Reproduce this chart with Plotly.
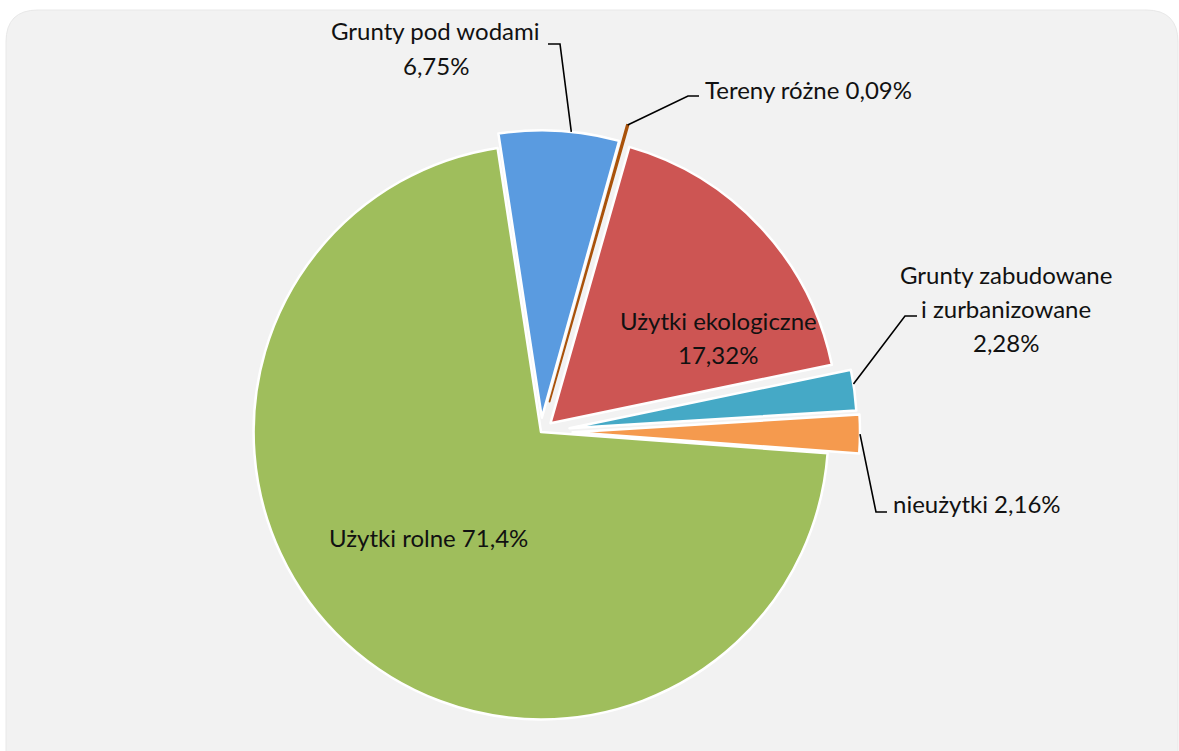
import math
import plotly.graph_objects as go

W, H = 1179, 751

# Land-use structure (%), clockwise from the top
categories = ["Grunty pod wodami", "Tereny różne", "Użytki ekologiczne",
              "Grunty zabudowane i zurbanizowane", "nieużytki", "Użytki rolne"]
shares = [6.75, 0.09, 17.32, 2.28, 2.16, 71.4]
share_labels = ["6,75%", "0,09%", "17,32%", "2,28%", "2,16%", "71,4%"]
colors = ["#5A9BE0", "#C8640F", "#CD5553", "#45A9C6", "#F59A4E", "#9FBE5C"]
edge_colors = ["white", "#A9520A", "white", "white", "white", "white"]
edge_widths = [2.5, 1.8, 2.5, 2.5, 2.5, 2.5]
pulls = [0.05, 0.11, 0.045, 0.10, 0.11, 0.0]

# pie placement in pixels
CX, CY = 541, 432
R_OUT = H - CY                  # half-size of the pie domain
ROTATION = -8.7


def px(x):
    return x / W


def py(y):
    return 1 - y / H


max_pull = max(pulls)
radius = R_OUT / (1 + max_pull)

fig = go.Figure(go.Pie(
    labels=categories,
    values=shares,
    sort=False,
    direction="clockwise",
    rotation=ROTATION,
    pull=pulls,
    marker=dict(colors=colors, line=dict(color=edge_colors, width=edge_widths)),
    textinfo="none",
    hoverinfo="label+percent",
    showlegend=False,
    domain=dict(x=[px(CX - R_OUT), px(CX + R_OUT)], y=[py(CY + R_OUT), py(CY - R_OUT)]),
))


def slice_point(i, frac=0.5, rscale=1.0):
    """Pixel position on slice i at a fraction of its angular span."""
    total = sum(shares)
    start = ROTATION + 360 * sum(shares[:i]) / total
    span = 360 * shares[i] / total
    mid = math.radians(start + span / 2)
    ang = math.radians(start + span * frac)
    ox = CX + pulls[i] * radius * math.sin(mid)
    oy = CY - pulls[i] * radius * math.cos(mid)
    return ox + rscale * radius * math.sin(ang), oy - rscale * radius * math.cos(ang)


FONT = dict(family="Lato, Calibri, sans-serif", size=24, color="#111111")
LINE_H = 34
annotations = []


def add_text(lines, x, y, anchor="center"):
    for k, line in enumerate(lines):
        annotations.append(dict(
            text=line, x=px(x), y=py(y + k * LINE_H), xref="paper", yref="paper",
            xanchor=anchor, yanchor="middle", showarrow=False, font=FONT))


add_text(["Grunty pod wodami", share_labels[0]], 436, 31)
add_text(["Tereny różne " + share_labels[1]], 703, 89, "left")
add_text(["Użytki ekologiczne", share_labels[2]], 718, 320)
add_text(["Grunty zabudowane", "i zurbanizowane", share_labels[3]], 1006, 274)
add_text(["nieużytki " + share_labels[4]], 891, 503, "left")
add_text(["Użytki rolne " + share_labels[5]], 428, 537)

# rounded panel behind the chart
L, T, R, B, RAD = 6, 10, 1178, 800, 32


def pt(x, y):
    return f"{px(x):.5f},{py(y):.5f}"


panel = (f"M {pt(L, B)} L {pt(L, T + RAD)} Q {pt(L, T)} {pt(L + RAD, T)} "
         f"L {pt(R - RAD, T)} Q {pt(R, T)} {pt(R, T + RAD)} L {pt(R, B)} Z")
shapes = [dict(type="path", xref="paper", yref="paper", layer="below", path=panel,
               fillcolor="#F2F2F2", line=dict(color="#E8E8E8", width=1))]


# leader lines: slice edge -> elbow -> label
def leader(points):
    path = "M " + " L ".join(pt(x, y) for x, y in points)
    shapes.append(dict(type="path", xref="paper", yref="paper", path=path,
                       line=dict(color="#000000", width=1.6), layer="above"))


bx, by = slice_point(0, 0.6)
leader([(bx, by), (560, 44), (548, 44)])
tx, ty = slice_point(1, 0.5)
leader([(tx, ty), (688, 96), (699, 96)])
zx, zy = slice_point(3, 0.35)
leader([(zx, zy), (905, 316), (917, 316)])
ox_, oy_ = slice_point(4, 0.5)
leader([(ox_, oy_), (876, 512), (887, 512)])

fig.update_layout(
    width=W, height=H,
    margin=dict(l=0, r=0, t=0, b=0),
    paper_bgcolor="white",
    plot_bgcolor="white",
    annotations=annotations,
    shapes=shapes,
)

fig.write_html("out.html")
